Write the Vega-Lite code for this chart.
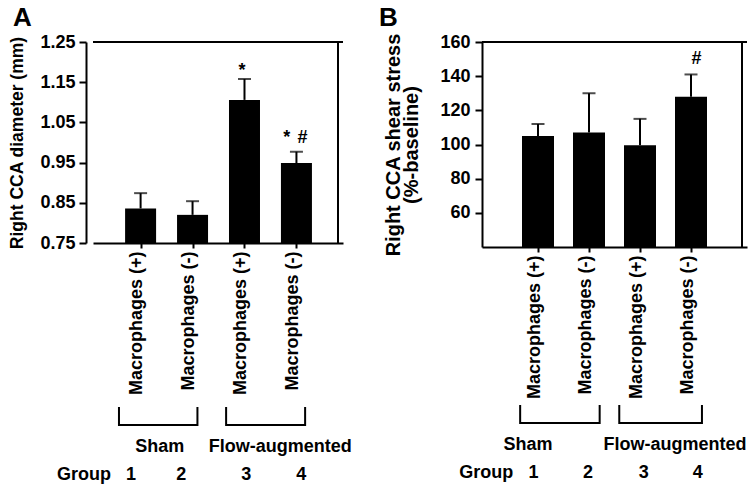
{
  "$schema": "https://vega.github.io/schema/vega-lite/v6.json",
  "padding": {"left": 8, "top": 4, "right": 0, "bottom": 0},
  "config": {
    "font": "Liberation Sans",
    "view": {"stroke": null},
    "axis": {"grid": false, "labelFont": "Liberation Sans", "labelFontWeight": "bold", "labelFontSize": 18, "labelColor": "black", "titleFont": "Liberation Sans", "titleFontWeight": "bold", "titleFontSize": 17.5, "titleColor": "black", "domainColor": "black", "domainWidth": 2, "tickColor": "black", "tickWidth": 2, "tickSize": 7, "labelPadding": 4, "labelOverlap": false},
    "title": {"font": "Liberation Sans", "fontWeight": "bold", "fontSize": 26, "color": "black", "anchor": "start", "frame": "bounds"},
    "text": {"font": "Liberation Sans", "fontWeight": "bold", "fontSize": 18, "color": "black"}
  },
  "datasets": {
    "barsA": [
      {"pos": 1, "value": 0.836, "upper": 0.874},
      {"pos": 2, "value": 0.820, "upper": 0.854},
      {"pos": 3, "value": 1.106, "upper": 1.158},
      {"pos": 4, "value": 0.949, "upper": 0.977}
    ],
    "marksA": [
      {"pos": 2.95, "level": 1.178, "t": "*"},
      {"pos": 3.815, "level": 1.012, "t": "*"},
      {"pos": 4.116, "level": 1.011, "t": "#"}
    ],
    "bracketsA": [
      {"bracket": "Sham", "seq": 1, "pos": 0.66, "level": 0},
      {"bracket": "Sham", "seq": 2, "pos": 0.66, "level": 18},
      {"bracket": "Sham", "seq": 3, "pos": 2.11, "level": 18},
      {"bracket": "Sham", "seq": 4, "pos": 2.11, "level": 0},
      {"bracket": "Flow", "seq": 1, "pos": 2.64, "level": 0},
      {"bracket": "Flow", "seq": 2, "pos": 2.64, "level": 18},
      {"bracket": "Flow", "seq": 3, "pos": 4.1, "level": 18},
      {"bracket": "Flow", "seq": 4, "pos": 4.1, "level": 0}
    ],
    "textA": [
      {"pos": 1.415, "level": 40, "t": "Sham"},
      {"pos": 3.64, "level": 40, "t": "Flow-augmented"},
      {"pos": 0.013, "level": 68, "t": "Group"},
      {"pos": 0.88, "level": 68, "t": "1"},
      {"pos": 1.81, "level": 68, "t": "2"},
      {"pos": 3.01, "level": 68, "t": "3"},
      {"pos": 4.03, "level": 68, "t": "4"}
    ],
    "barsB": [
      {"pos": 1, "value": 105, "upper": 112},
      {"pos": 2, "value": 107, "upper": 130},
      {"pos": 3, "value": 99.5, "upper": 115},
      {"pos": 4, "value": 128, "upper": 141}
    ],
    "marksB": [
      {"pos": 4.11, "level": 150, "t": "#"}
    ],
    "bracketsB": [
      {"bracket": "Sham", "seq": 1, "pos": 0.72, "level": 0},
      {"bracket": "Sham", "seq": 2, "pos": 0.72, "level": 18},
      {"bracket": "Sham", "seq": 3, "pos": 2.22, "level": 18},
      {"bracket": "Sham", "seq": 4, "pos": 2.22, "level": 0},
      {"bracket": "Flow", "seq": 1, "pos": 2.59, "level": 0},
      {"bracket": "Flow", "seq": 2, "pos": 2.59, "level": 18},
      {"bracket": "Flow", "seq": 3, "pos": 4.15, "level": 18},
      {"bracket": "Flow", "seq": 4, "pos": 4.15, "level": 0}
    ],
    "textB": [
      {"pos": 0.87, "level": 40, "t": "Sham"},
      {"pos": 3.64, "level": 40, "t": "Flow-augmented"},
      {"pos": 0.08, "level": 68, "t": "Group"},
      {"pos": 0.97, "level": 68, "t": "1"},
      {"pos": 2.0, "level": 68, "t": "2"},
      {"pos": 3.05, "level": 68, "t": "3"},
      {"pos": 4.07, "level": 68, "t": "4"}
    ]
  },
  "spacing": 26,
  "resolve": {"scale": {"x": "independent", "y": "independent"}},
  "hconcat": [
    {
      "spacing": 8,
      "resolve": {"scale": {"x": "independent", "y": "independent"}},
      "vconcat": [
        {
          "title": {"text": "A", "offset": 2, "dx": 4},
          "width": 250,
          "height": 201,
          "layer": [
            {
              "data": {"name": "barsA"},
              "mark": {"type": "bar", "width": 31, "color": "black"},
              "encoding": {
                "x": {"field": "pos", "type": "quantitative", "scale": {"domain": [0.18, 4.8], "nice": false, "zero": false},
                  "axis": {"values": [1, 2, 3, 4], "title": null, "labelExpr": "datum.value % 2 == 1 ? 'Macrophages (+)' : 'Macrophages (-)'", "labelAngle": -90, "labelBaseline": "alphabetic", "labelOffset": 1, "tickSize": 5, "labelPadding": 3, "labelOverlap": false}},
                "y": {"field": "value", "type": "quantitative", "scale": {"domain": [0.75, 1.25], "nice": false, "zero": false},
                  "axis": {"values": [0.75, 0.85, 0.95, 1.05, 1.15, 1.25], "format": ".2f", "offset": 7, "title": "Right CCA diameter (mm)", "titlePadding": 13, "labelOverlap": false}},
                "y2": {"datum": 0.75}
              }
            },
            {
              "data": {"name": "barsA"},
              "mark": {"type": "rule", "color": "black", "strokeWidth": 2},
              "encoding": {
                "x": {"field": "pos", "type": "quantitative"},
                "y": {"field": "value", "type": "quantitative"},
                "y2": {"field": "upper"}
              }
            },
            {
              "data": {"name": "barsA"},
              "mark": {"type": "tick", "orient": "horizontal", "color": "black", "size": 13, "thickness": 2},
              "encoding": {
                "x": {"field": "pos", "type": "quantitative"},
                "y": {"field": "upper", "type": "quantitative"}
              }
            },
            {
              "data": {"name": "marksA"},
              "mark": {"type": "text", "baseline": "middle"},
              "encoding": {
                "x": {"field": "pos", "type": "quantitative"},
                "y": {"field": "level", "type": "quantitative"},
                "text": {"field": "t"}
              }
            },
            {
              "data": {"values": [{}]},
              "mark": {"type": "rule", "strokeWidth": 2, "color": "black"},
              "encoding": {"y": {"datum": 1.25}}
            },
            {
              "data": {"values": [{}]},
              "mark": {"type": "rule", "strokeWidth": 2, "color": "black"},
              "encoding": {"x": {"datum": 4.8}}
            }
          ]
        },
        {
          "width": 250,
          "height": 75,
          "layer": [
            {
              "data": {"name": "bracketsA"},
              "mark": {"type": "line", "color": "black", "strokeWidth": 2},
              "encoding": {
                "x": {"field": "pos", "type": "quantitative", "scale": {"domain": [0.18, 4.8], "nice": false, "zero": false}, "axis": null},
                "y": {"field": "level", "type": "quantitative", "scale": {"domain": [0, 75], "reverse": true, "nice": false, "zero": false}, "axis": null},
                "detail": {"field": "bracket"},
                "order": {"field": "seq"}
              }
            },
            {
              "data": {"name": "textA"},
              "mark": {"type": "text", "baseline": "middle"},
              "encoding": {
                "x": {"field": "pos", "type": "quantitative"},
                "y": {"field": "level", "type": "quantitative"},
                "text": {"field": "t"}
              }
            }
          ]
        }
      ]
    },
    {
      "spacing": 2,
      "resolve": {"scale": {"x": "independent", "y": "independent"}},
      "vconcat": [
        {
          "title": {"text": "B", "offset": 2, "dx": -5},
          "width": 265,
          "height": 205,
          "layer": [
            {
              "data": {"name": "barsB"},
              "mark": {"type": "bar", "width": 32, "color": "black"},
              "encoding": {
                "x": {"field": "pos", "type": "quantitative", "scale": {"domain": [0, 5], "nice": false, "zero": false},
                  "axis": {"values": [1, 2, 3, 4], "title": null, "labelExpr": "datum.value % 2 == 1 ? 'Macrophages (+)' : 'Macrophages (-)'", "labelAngle": -90, "labelBaseline": "alphabetic", "labelOffset": 1, "tickSize": 5, "labelPadding": 3, "labelOverlap": false}},
                "y": {"field": "value", "type": "quantitative", "scale": {"domain": [40, 160], "nice": false, "zero": false},
                  "axis": {"values": [60, 80, 100, 120, 140, 160], "labelOverlap": false, "labelSeparation": 0, "title": ["Right CCA shear stress", "\u00a0\u00a0\u00a0\u00a0\u00a0\u00a0\u00a0\u00a0(%-baseline)"], "titleFontSize": 20, "titleLineHeight": 18, "titlePadding": 18, "labelPadding": 5}},
                "y2": {"datum": 40}
              }
            },
            {
              "data": {"name": "barsB"},
              "mark": {"type": "rule", "color": "black", "strokeWidth": 2},
              "encoding": {
                "x": {"field": "pos", "type": "quantitative"},
                "y": {"field": "value", "type": "quantitative"},
                "y2": {"field": "upper"}
              }
            },
            {
              "data": {"name": "barsB"},
              "mark": {"type": "tick", "orient": "horizontal", "color": "black", "size": 13, "thickness": 2},
              "encoding": {
                "x": {"field": "pos", "type": "quantitative"},
                "y": {"field": "upper", "type": "quantitative"}
              }
            },
            {
              "data": {"name": "marksB"},
              "mark": {"type": "text", "baseline": "middle"},
              "encoding": {
                "x": {"field": "pos", "type": "quantitative"},
                "y": {"field": "level", "type": "quantitative"},
                "text": {"field": "t"}
              }
            },
            {
              "data": {"values": [{}]},
              "mark": {"type": "rule", "strokeWidth": 2, "color": "black"},
              "encoding": {"y": {"datum": 160}}
            },
            {
              "data": {"values": [{}]},
              "mark": {"type": "rule", "strokeWidth": 2, "color": "black"},
              "encoding": {"x": {"datum": 5}}
            }
          ]
        },
        {
          "width": 265,
          "height": 75,
          "layer": [
            {
              "data": {"name": "bracketsB"},
              "mark": {"type": "line", "color": "black", "strokeWidth": 2},
              "encoding": {
                "x": {"field": "pos", "type": "quantitative", "scale": {"domain": [0, 5], "nice": false, "zero": false}, "axis": null},
                "y": {"field": "level", "type": "quantitative", "scale": {"domain": [0, 75], "reverse": true, "nice": false, "zero": false}, "axis": null},
                "detail": {"field": "bracket"},
                "order": {"field": "seq"}
              }
            },
            {
              "data": {"name": "textB"},
              "mark": {"type": "text", "baseline": "middle"},
              "encoding": {
                "x": {"field": "pos", "type": "quantitative"},
                "y": {"field": "level", "type": "quantitative"},
                "text": {"field": "t"}
              }
            }
          ]
        }
      ]
    }
  ]
}
